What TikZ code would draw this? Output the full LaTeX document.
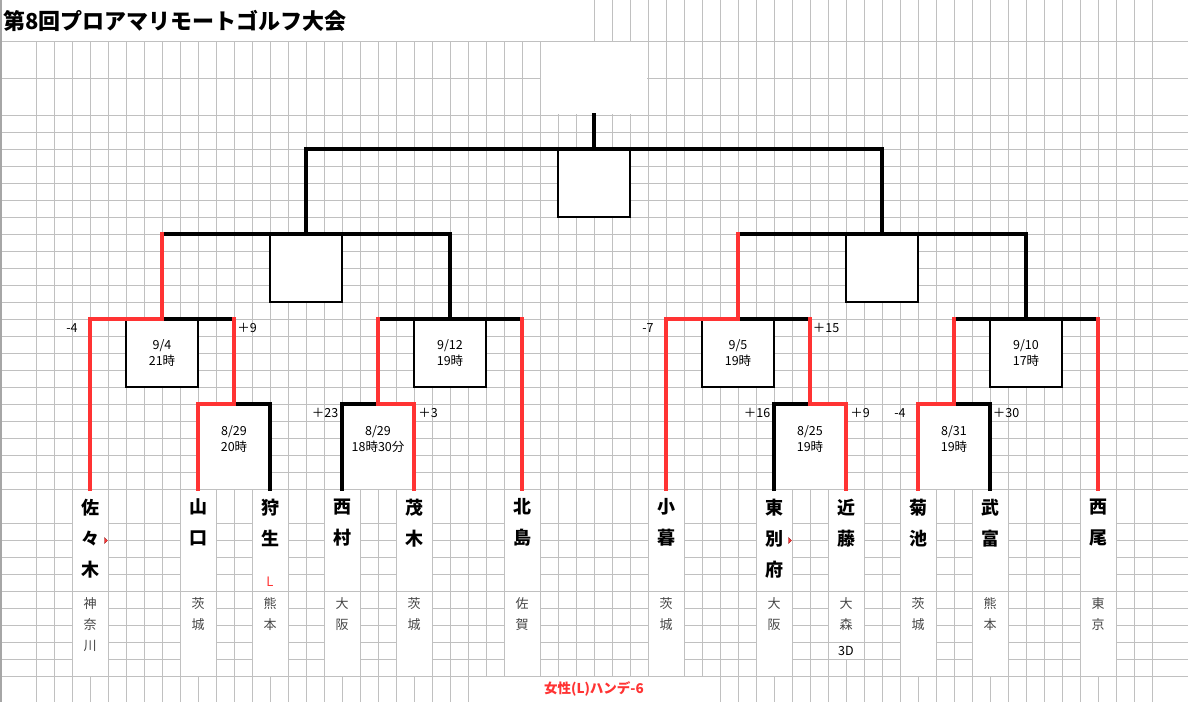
\documentclass[tikz,border=0pt]{standalone}
\usepackage{fontspec}
\setmainfont{Noto Sans CJK JP}
\usetikzlibrary{positioning}
\definecolor{winred}{RGB}{255,51,51}
\definecolor{gridgray}{RGB}{192,192,192}
\definecolor{prefgray}{RGB}{70,70,70}
\tikzset{
    gridline/.style={draw=gridgray, line width=1pt}, % sheet grid
    bracket/.style={line width=3.2pt, line cap=rect, line join=miter},
    winline/.style={bracket, draw=winred}, % winner's way up
    loseline/.style={bracket, draw=black},
    namecell/.style={rectangle, draw=gridgray, line width=1pt, fill=white,
        minimum width=36pt, minimum height=102pt, inner sep=0pt, outer sep=0pt},
    prefcell/.style={namecell, minimum height=85pt},
    nametext/.style={inner sep=0pt, align=center, font={\fontsize{18}{31}\selectfont\bfseries}},
    preftext/.style={inner sep=0pt, align=center, text=prefgray, font={\fontsize{13}{21}\selectfont}},
    datebox/.style={rectangle, draw, fill=white, line width=1.1pt, minimum width=72pt,
        minimum height=68pt, inner sep=0pt, align=center, font={\fontsize{12.5}{16}\selectfont}},
    datetext/.style={inner sep=0pt, align=center, font={\fontsize{12.5}{16}\selectfont}},
    score/.style={inner sep=0pt, font={\fontsize{12.5}{14}\selectfont}},
}

\begin{document}
\begin{tikzpicture}[x=1pt, y=-1pt]
    \useasboundingbox (0,0) rectangle (1188,702);

    % sheet grid
    \foreach \x in {36,54,...,1152} \draw[gridline] (\x,41) -- (\x,702);
    \foreach \x in {594,612,...,1152} \draw[gridline] (\x,0) -- (\x,41);
    \foreach \y in {41,78,115,132,...,489,523,540,...,676} \draw[gridline] (0,\y) -- (1188,\y);
    \draw[gray!70, line width=1.5pt] (0.75,0) -- (0.75,702);
    \fill[white] (541,42) rectangle (647,114);
    \fill[white] (469,677) rectangle (719,702);

    \node[anchor=west, inner sep=0pt, font={\fontsize{22}{24}\selectfont\bfseries}] (title) at (3,21) {第8回プロアマリモートゴルフ大会};

    % players
    \foreach \x/\key/\nm/\pf in {
        90/sasaki/{佐\\々\\木}/{神\\奈\\川},
        198/yamaguchi/{山\\口}/{茨\\城},
        270/karyu/{狩\\生}/{熊\\本},
        342/nishimura/{西\\村}/{大\\阪},
        414/motegi/{茂\\木}/{茨\\城},
        522/kitajima/{北\\島}/{佐\\賀},
        666/kogure/{小\\暮}/{茨\\城},
        774/higashibeppu/{東\\別\\府}/{大\\阪},
        846/kondo/{近\\藤}/{大\\森},
        918/kikuchi/{菊\\池}/{茨\\城},
        990/taketomi/{武\\富}/{熊\\本},
        1098/nishio/{西\\尾}/{東\\京}} {
        \node[namecell] (\key) at (\x,540) {};
        \node[prefcell, below=0pt of \key] (\key-p) {};
        \node[nametext, below=9.5pt of \key.north] (\key-n) {\nm};
        \node[preftext, below=6.5pt of \key-p.north] (\key-f) {\pf};
    }
    \draw[gridline] (828,642) -- (864,642) (828,659) -- (864,659) (846,659) -- (846,676);
    \node[datetext] (kondo-3d) at (846,651) {3D};
    \node[inner sep=0pt, text=winred, font={\fontsize{13}{14}\selectfont}] (karyu-l) at (270,582) {L};
    \fill[winred, draw=red!50!black, line width=0.3pt] (104.5,537.5) -- (107.5,540.5) -- (104.5,543.5) -- cycle;
    \fill[winred, draw=red!50!black, line width=0.3pt] (788.5,537.5) -- (791.5,540.5) -- (788.5,543.5) -- cycle;

    % match points
    \coordinate (mA) at (234,404);
    \coordinate (mB) at (378,404);
    \coordinate (mC) at (162,319);
    \coordinate (mD) at (450,319);
    \coordinate (mE) at (306,234);
    \coordinate (mF) at (810,404);
    \coordinate (mG) at (954,404);
    \coordinate (mH) at (738,319);
    \coordinate (mI) at (1026,319);
    \coordinate (mJ) at (882,234);
    \coordinate (final) at (594,149);
    \coordinate (top) at (594,115);

    % match boxes
    \fill[white] (yamaguchi.north) rectangle (karyu |- mA);
    \fill[white] (nishimura.north) rectangle (motegi |- mA);
    \fill[white] (higashibeppu.north) rectangle (kondo |- mF);
    \fill[white] (kikuchi.north) rectangle (taketomi |- mG);
    \node[datebox] (bC) at (162,353) {9/4\\21時};
    \node[datebox] (bD) at (450,353) {9/12\\19時};
    \node[datebox] (bH) at (738,353) {9/5\\19時};
    \node[datebox] (bI) at (1026,353) {9/10\\17時};
    \node[datebox] (bE) at (306,268) {};
    \node[datebox] (bJ) at (882,268) {};
    \node[datebox] (bF0) at (594,183) {};
    \node[datetext] (bA) at (234,439) {8/29\\20時};
    \node[datetext] (bB) at (378,439) {8/29\\18時30分};
    \node[datetext] (bF) at (810,439) {8/25\\19時};
    \node[datetext] (bG) at (954,439) {8/31\\19時};

    % bracket
    \draw[loseline] (karyu.north) |- (mA);
    \draw[loseline] (nishimura.north) |- (mB);
    \draw[loseline] (mC) -- (mA |- mC);
    \draw[loseline] (mB |- mD) -- (kitajima |- mD) (mD) -- (mD |- mE);
    \draw[loseline] (mC |- mE) -- (mD |- mE) (mE) -- (mE |- final);
    \draw[loseline] (higashibeppu.north) |- (mF);
    \draw[loseline] (taketomi.north) |- (mG);
    \draw[loseline] (mH) -- (mF |- mH);
    \draw[loseline] (mG |- mI) -- (nishio |- mI) (mI) -- (mI |- mJ);
    \draw[loseline] (mH |- mJ) -- (mI |- mJ) (mJ) -- (mJ |- final);
    \draw[loseline] (mE |- final) -- (mJ |- final) (final) -- (top);

    \draw[winline] (yamaguchi.north) |- (mA) -- (mA |- mC);
    \draw[winline] (motegi.north) |- (mB) -- (mB |- mD);
    \draw[winline] (sasaki.north) |- (mC) -- (mC |- mE);
    \draw[winline] (kitajima.north) -- (kitajima |- mD);
    \draw[winline] (kondo.north) |- (mF) -- (mF |- mH);
    \draw[winline] (kikuchi.north) |- (mG) -- (mG |- mI);
    \draw[winline] (kogure.north) |- (mH) -- (mH |- mJ);
    \draw[winline] (nishio.north) -- (nishio |- mI);

    % scores
    \node[score] (s1) at (72,328) {-4};
    \node[score] (s2) at (247,328) {＋9};
    \node[score] (s3) at (325,413) {＋23};
    \node[score] (s4) at (428,413) {＋3};
    \node[score] (s5) at (648,328) {-7};
    \node[score] (s6) at (826,328) {＋15};
    \node[score] (s7) at (757,413) {＋16};
    \node[score] (s8) at (860,413) {＋9};
    \node[score] (s9) at (900,413) {-4};
    \node[score] (s10) at (1006,413) {＋30};

    \node[inner sep=0pt, text=winred, font={\fontsize{13.5}{15}\selectfont\bfseries}] (note) at (594,689) {女性(L)ハンデ-6};
\end{tikzpicture}
\end{document}
